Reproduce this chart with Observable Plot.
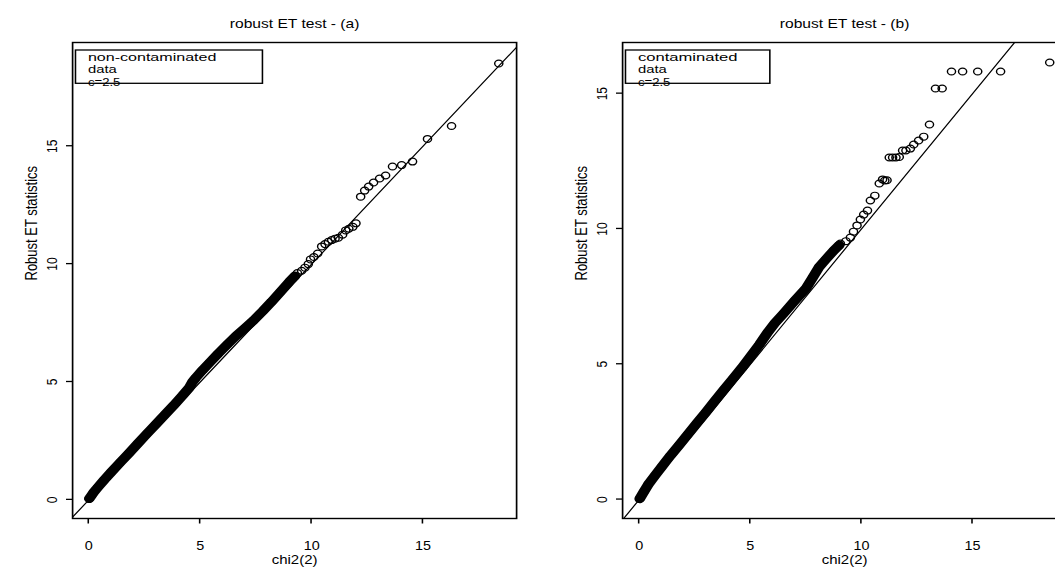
<!DOCTYPE html>
<html><head><meta charset="utf-8">
<script src="https://cdn.jsdelivr.net/npm/d3@7"></script>
<script src="https://cdn.jsdelivr.net/npm/@observablehq/plot@0.6"></script>
<style>
html,body{margin:0;padding:0;background:#fff;overflow:hidden;}
#wrap{position:relative;width:1055px;height:574px;overflow:hidden;background:#fff;}
#wrap svg{position:absolute;top:0;transform-origin:0 0;max-width:none;}
</style></head><body><div id="wrap"></div>
<script>
// ---- data ----
const xTicks = [0, 5, 10, 15];
const yTicks = [0, 5, 10, 15];
const ablineX = [-2, 22];

const titleA = "robust ET test - (a)";
const titleB = "robust ET test - (b)";
const xLabel = "chi2(2)";
const yLabel = "Robust ET statistics";
const legendA = ["non-contaminated", "data", "c=2.5"];
const legendB = ["contaminated", "data", "c=2.5"];

// panel (a): dense band of points
const aBandX = [0.02,0.2,0.4,0.7,1.0,1.4,1.8,2.2,2.6,3.0,3.4,3.8,4.2,4.5,4.65,4.8,5.1,5.4,5.8,6.2,6.6,7.0,7.4,7.8,8.2,8.6,9.0,9.25];
const aBandY = [0.05,0.3,0.53,0.86,1.17,1.58,1.98,2.39,2.8,3.2,3.6,4.0,4.42,4.75,5.0,5.18,5.5,5.8,6.2,6.58,6.95,7.28,7.62,8.0,8.4,8.82,9.25,9.5];
// panel (a): upper tail points
const aTailX = [9.36,9.55,9.7,9.85,9.95,10.1,10.27,10.45,10.6,10.75,10.9,11.05,11.2,11.39,11.53,11.67,11.85,11.99,12.2,12.38,12.56,12.78,13.05,13.32,13.63,14.04,14.53,15.2,16.28,18.4];
const aTailY = [9.62,9.72,9.85,10.0,10.2,10.3,10.45,10.75,10.85,10.95,11.02,11.08,11.12,11.25,11.43,11.5,11.58,11.73,12.86,13.12,13.29,13.46,13.63,13.76,14.14,14.2,14.35,15.31,15.86,18.51];

// panel (b): dense band of points
const bBandX = [0.02,0.2,0.4,0.7,1.0,1.4,1.8,2.2,2.6,3.0,3.4,3.8,4.2,4.6,5.0,5.4,5.8,6.1,6.5,7.0,7.5,7.8,8.1,8.4,8.75,9.0];
const bBandY = [0.03,0.28,0.55,0.88,1.2,1.62,2.02,2.42,2.83,3.23,3.64,4.05,4.45,4.85,5.28,5.72,6.2,6.52,6.88,7.35,7.8,8.2,8.6,8.88,9.2,9.4];
// panel (b): upper tail points
const bTailX = [9.05,9.3,9.5,9.64,9.8,9.95,10.1,10.27,10.4,10.6,10.8,10.95,11.05,11.15,11.25,11.4,11.55,11.7,11.85,12.0,12.2,12.35,12.57,12.8,13.06,13.33,13.63,14.05,14.55,15.23,16.26,18.47];
const bTailY = [9.46,9.55,9.68,9.9,10.13,10.35,10.53,10.68,11.05,11.23,11.68,11.83,11.79,11.8,12.64,12.64,12.64,12.66,12.9,12.9,12.97,13.12,13.27,13.41,13.86,15.19,15.19,15.82,15.82,15.82,15.82,16.15];

const aXDomain = [-0.73, 19.2], aYDomain = [-0.79, 19.4];
const bXDomain = [-0.75, 19.23], bYDomain = [-0.70, 16.89];

// ---- layout ----
const SX = 1.2;           // horizontal stretch of the reference picture
const W = 450, H = 574;
const ML = 60, MR = 20, MT = 42, MB = 56;
const FONT = "'Liberation Sans', Arial, Helvetica, sans-serif";

function panel(o) {
  const band = o.bandX.map((x, i) => ({x, y: o.bandY[i]}));
  const tail = o.tailX.map((x, i) => ({x, y: o.tailY[i]}));
  const pts = band.concat(tail);
  const ab = ablineX.map(v => ({x: v, y: v}));
  const legendMark = () => {
    const g = d3.create("svg:g");
    g.append("rect")
      .attr("x", ML + 2.9).attr("y", MT + 8)
      .attr("width", o.legendW).attr("height", 33.3)
      .attr("fill", "none").attr("stroke", "#000").attr("stroke-width", 1.3);
    o.legend.forEach((t, i) => {
      g.append("text")
        .attr("x", ML + 13.3).attr("y", MT + 19 + i * 12.3)
        .attr("text-anchor", "start")
        .attr("font-size", 10.5).attr("fill", "#000")
        .attr("font-family", FONT)
        .attr("textLength", o.legendLen[i])
        .attr("lengthAdjust", "spacingAndGlyphs")
        .text(t);
    });
    return g.node();
  };
  return Plot.plot({
    width: W, height: H,
    marginLeft: ML, marginRight: MR, marginTop: MT, marginBottom: MB,
    style: {fontFamily: FONT, fontSize: "12px", color: "#000", background: "#fff", overflow: "visible"},
    x: {domain: o.xDomain},
    y: {domain: o.yDomain},
    marks: [
      Plot.line(ab, {x: "x", y: "y", stroke: "#000", strokeWidth: 1.1, clip: true}),
      Plot.line(band, {x: "x", y: "y", stroke: "#000", strokeWidth: 8.8, strokeLinecap: "round", strokeLinejoin: "round"}),
      Plot.dot(pts, {x: "x", y: "y", r: 3.4, stroke: "#000", strokeWidth: 1.2, fill: "none"}),
      Plot.frame({stroke: "#000", strokeWidth: 1.4}),
      Plot.tickX(xTicks, {x: d => d,
        render: (I, scales, values, dims) => {
          const g = d3.create("svg:g").attr("stroke", "#000").attr("stroke-width", 1.3);
          const yb = dims.height - dims.marginBottom;
          for (const i of I) g.append("line").attr("x1", values.x[i]).attr("x2", values.x[i]).attr("y1", yb).attr("y2", yb + 5.5);
          return g.node();
        }}),
      Plot.tickY(yTicks, {y: d => d,
        render: (I, scales, values, dims) => {
          const g = d3.create("svg:g").attr("stroke", "#000").attr("stroke-width", 1.3);
          const xl = dims.marginLeft;
          for (const i of I) g.append("line").attr("y1", values.y[i]).attr("y2", values.y[i]).attr("x1", xl).attr("x2", xl - 5);
          return g.node();
        }}),
      Plot.axisX({ticks: xTicks, tickSize: 0, tickPadding: 23, label: null, tickFormat: d => String(d), fontSize: 12}),
      Plot.axisY({ticks: yTicks, tickSize: 0, tickPadding: 17, rotate: -90, textAnchor: "middle", lineAnchor: "middle", label: null, tickFormat: d => String(d), fontSize: 12}),
      Plot.text([o.title], {frameAnchor: "top", dy: -24, fontSize: 13, fill: "#000"}),
      Plot.text([xLabel], {frameAnchor: "bottom", dy: 45, fontSize: 12.5, fill: "#000"}),
      Plot.text([yLabel], {frameAnchor: "left", dx: -34, rotate: -90, fontSize: 13, fill: "#000"}),
      legendMark
    ]
  });
}

const wrap = document.getElementById("wrap");
const svgA = panel({title: titleA, legend: legendA, legendW: 155.8, legendLen: [107, 24, 27],
  bandX: aBandX, bandY: aBandY, tailX: aTailX, tailY: aTailY, xDomain: aXDomain, yDomain: aYDomain});
const svgB = panel({title: titleB, legend: legendB, legendW: 120.3, legendLen: [83, 24, 27],
  bandX: bBandX, bandY: bBandY, tailX: bTailX, tailY: bTailY, xDomain: bXDomain, yDomain: bYDomain});
[[svgA, 0], [svgB, 550.3]].forEach(([s, left]) => {
  s.style.left = left + "px";
  s.style.transform = `scaleX(${SX})`;
  wrap.appendChild(s);
});
</script>
</body></html>
